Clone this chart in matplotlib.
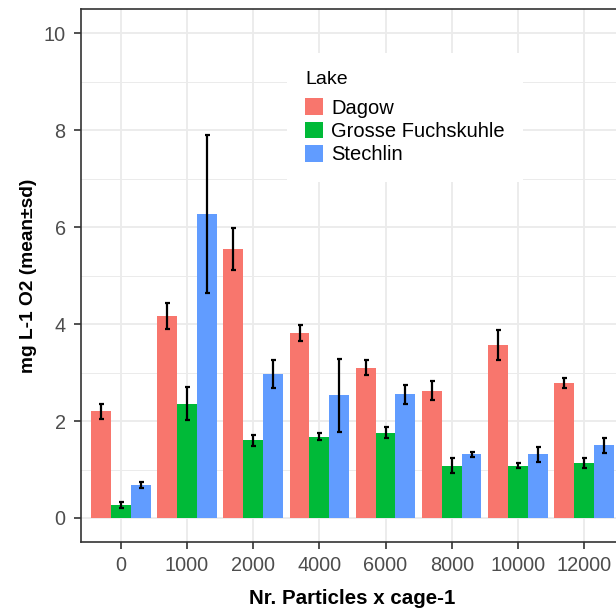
import matplotlib
matplotlib.use("Agg")
import matplotlib.pyplot as plt
import numpy as np
from matplotlib.patches import Patch
from matplotlib.ticker import MultipleLocator

plt.rcParams['font.family'] = ['Liberation Sans', 'DejaVu Sans']

categories = ["0", "1000", "2000", "4000", "6000", "8000", "10000", "12000"]
lakes = ["Dagow", "Grosse Fuchskuhle", "Stechlin"]
colors = ["#F8766D", "#00BA38", "#619CFF"]

dagow_mean = [2.20, 4.17, 5.55, 3.82, 3.10, 2.63, 3.57, 2.78]
dagow_sd = [0.16, 0.27, 0.43, 0.16, 0.15, 0.19, 0.31, 0.10]
gf_mean = [0.27, 2.36, 1.60, 1.68, 1.76, 1.08, 1.08, 1.14]
gf_sd = [0.06, 0.34, 0.12, 0.07, 0.11, 0.16, 0.05, 0.10]
st_mean = [0.68, 6.28, 2.97, 2.53, 2.55, 1.31, 1.31, 1.50]
st_sd = [0.07, 1.63, 0.28, 0.75, 0.19, 0.05, 0.15, 0.16]

means = [dagow_mean, gf_mean, st_mean]
sds = [dagow_sd, gf_sd, st_sd]

W, H = 616, 608
fig = plt.figure(figsize=(W / 100, H / 100), dpi=100)
left_px, right_px, top_px, bot_px = 81.2, 623.7, 9.1, 542.2
ax = fig.add_axes([left_px / W, 1 - bot_px / H, (right_px - left_px) / W, (bot_px - top_px) / H])

x = np.arange(len(categories))
bw = 0.3
for i, (m, s) in enumerate(zip(means, sds)):
    xs = x + (i - 1) * bw
    ax.bar(xs, m, width=bw, color=colors[i], zorder=2, linewidth=0)
    ax.errorbar(xs, m, yerr=s, fmt='none', ecolor='black', elinewidth=1.6,
                capsize=1.8, capthick=1.6, zorder=3)

ax.set_xlim(-0.6, len(categories) - 0.4)
ax.set_ylim(-0.5, 10.5)
ax.set_xticks(x)
ax.set_xticklabels(categories)
ax.yaxis.set_major_locator(MultipleLocator(2))
ax.yaxis.set_minor_locator(MultipleLocator(1))
ax.set_axisbelow(True)
ax.grid(which='major', color='#EBEBEB', linewidth=1.3, zorder=0)
ax.grid(which='minor', axis='y', color='#EBEBEB', linewidth=0.7, zorder=0)
ax.tick_params(axis='both', which='major', labelsize=14.3, labelcolor='#4D4D4D',
               color='#333333', length=5, width=1.2)
ax.tick_params(axis='x', which='major', pad=5.2)
ax.tick_params(axis='y', which='major', pad=6.2)
ax.tick_params(axis='y', which='minor', length=0)
for sp in ax.spines.values():
    sp.set_color('#333333')
    sp.set_linewidth(1.2)

ax.set_xlabel("Nr. Particles x cage-1", fontsize=14.8, fontweight='bold', labelpad=9.5)
ax.set_ylabel("mg L-1 O2 (mean±sd)", fontsize=13.8, fontweight='bold', labelpad=5)

handles = [Patch(facecolor=c, edgecolor='none') for c in colors]
leg = ax.legend(handles, lakes, title="Lake", loc='upper left',
                bbox_to_anchor=(287 / W, 1 - 53 / H), bbox_transform=fig.transFigure,
                borderaxespad=0, frameon=True, fancybox=False, framealpha=1,
                facecolor='white', edgecolor='none', fontsize=14.5, title_fontsize=14,
                handlelength=0.9, handleheight=0.9, handletextpad=0.4,
                labelspacing=0.2, borderpad=0.9, alignment='left')
leg._legend_box.sep = 7.3

fig.savefig("out.png", dpi=100)
